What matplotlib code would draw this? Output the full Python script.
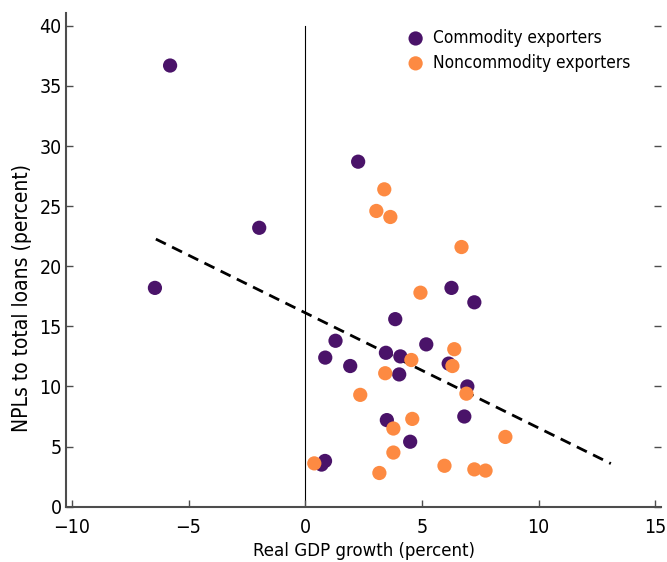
import matplotlib.pyplot as plt

plt.rcParams['font.family'] = ['DejaVu Sans']
plt.rcParams['font.stretch'] = 'condensed'

# commodity exporters (purple)
comm_x = [-5.79, -1.97, -6.44, 2.27, 6.27, 7.25, 3.86, 1.30, 5.19, 0.86, 3.46, 4.08,
          1.93, 4.03, 6.15, 6.95, 3.50, 6.82, 4.50, 0.70, 0.85]
comm_y = [36.7, 23.2, 18.2, 28.7, 18.2, 17.0, 15.6, 13.8, 13.5, 12.4, 12.8, 12.5,
          11.7, 11.0, 11.9, 10.0, 7.2, 7.5, 5.4, 3.5, 3.8]

# noncommodity exporters (orange)
non_x = [3.39, 3.05, 3.65, 6.70, 4.94, 6.39, 4.55, 6.31, 3.43, 6.91, 2.36, 4.59,
         3.78, 3.78, 8.58, 5.97, 7.25, 7.73, 3.18, 0.39]
non_y = [26.4, 24.6, 24.1, 21.6, 17.8, 13.1, 12.2, 11.7, 11.1, 9.4, 9.3, 7.3,
         6.5, 4.5, 5.8, 3.4, 3.1, 3.0, 2.8, 3.6]

# fitted line
fit_x = [-6.4, 13.1]
fit_intercept = 16.13
fit_slope = -0.958

purple = '#4a1369'
orange = '#fd8a42'

fig = plt.figure(figsize=(6.67, 5.62), dpi=100)
ax = fig.add_axes([0.099, 0.0985, 0.892, 0.879])

ax.plot([0, 0], [0, 40], color='black', lw=0.8, zorder=1)
ax.plot(fit_x, [fit_intercept + fit_slope * v for v in fit_x], color='black',
        lw=2, ls=(0, (4, 2.5)), zorder=2)
ax.scatter(comm_x, comm_y, s=105, color=purple, edgecolors='none', zorder=3,
           label='Commodity exporters')
ax.scatter(non_x, non_y, s=105, color=orange, edgecolors='none', zorder=3,
           label='Noncommodity exporters')

ax.set_xlim(-10.25, 15.25)
ax.set_ylim(0, 41.1)
ax.set_xticks([-10, -5, 0, 5, 10, 15])
ax.set_xticklabels(['\u221210', '\u22125', '0', '5', '10', '15'])
ax.set_yticks(range(0, 45, 5))

for s in ['top', 'right']:
    ax.spines[s].set_visible(False)
for s in ['left', 'bottom']:
    ax.spines[s].set_color('#4d4d4d')
    ax.spines[s].set_linewidth(1.5)
ax.tick_params(direction='in', length=5, width=1, color='#4d4d4d',
               labelsize=14, right=True)
ax.tick_params(axis='x', pad=8.5)
ax.tick_params(axis='y', pad=3)

ax.set_xlabel('Real GDP growth (percent)', fontsize=13.3)
ax.xaxis.set_label_coords(0.5, -0.072)
ax.set_ylabel('NPLs to total loans (percent)', fontsize=15)
ax.yaxis.set_label_coords(-0.058, 0.423)

ax.legend(loc='upper left', bbox_to_anchor=(407 / 667, 1 - 29 / 562),
          bbox_transform=fig.transFigure, frameon=False, fontsize=12.4,
          handlelength=1, handletextpad=0.5, labelspacing=0.4,
          borderaxespad=0, borderpad=0)

fig.savefig('out.png', dpi=100)
